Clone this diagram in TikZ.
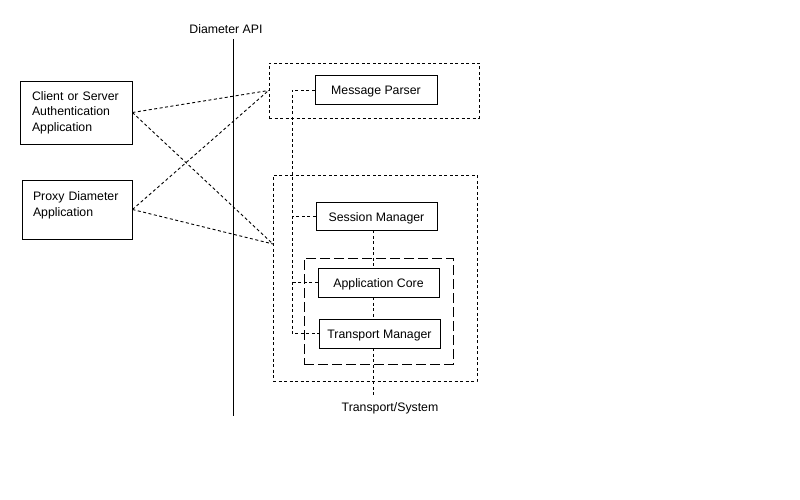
\documentclass[tikz,border=0pt]{standalone}
\usepackage{fontspec}
\setmainfont{Liberation Sans}
\usepackage{tikz}
\usetikzlibrary{positioning}

\tikzset{
  modbox/.style={rectangle, draw, line width=0.9pt, minimum width=121, minimum height=29, inner sep=0pt, text height=10pt, text depth=0pt},
  appbox/.style={rectangle, draw, line width=0.9pt, inner sep=0pt, align=left, text width=88},
  dotline/.style={line width=0.9pt, dash pattern=on 3pt off 2.5pt},
  dashline/.style={line width=0.9pt, dash pattern=on 10pt off 4pt},
}

\begin{document}
\begin{tikzpicture}[x=1pt, y=-1pt, font=\fontsize{12.3}{15.5}\selectfont]
    \useasboundingbox (0,0) rectangle (800,500);

    % API boundary
    \coordinate (apitop) at (233,39);
    \coordinate (apibot) at (233,416);
    \draw[line width=0.9pt] (apitop) -- (apibot);
    \node (apilabel) at (226,29) {Diameter API};

    % applications
    \node[appbox, minimum width=112, minimum height=63] (client) at (76,112.5)
        {Client or Server\\Authentication\\Application};
    \node[appbox, minimum width=110, minimum height=59, text depth=26pt] (proxy) at (77,209.5)
        {Proxy Diameter\\Application};

    % groups
    \node[draw, dotline, minimum width=210, minimum height=55, inner sep=0pt] (parsergroup) at (374,90.5) {};
    \node[draw, dotline, minimum width=204, minimum height=206, inner sep=0pt] (stackgroup) at (375,278) {};
    \node[draw, dashline, minimum width=149, minimum height=106, inner sep=0pt] (coregroup) at (378.5,311) {};

    % modules
    \node[modbox, minimum width=122] (parser) at (376,90) {Message Parser};
    \node[modbox, minimum height=28] (session) at (376.5,216) {Session Manager};
    \node[modbox] (core) at (378.5,282.5) {Application Core};
    \node[modbox] (transport) at (379.5,333.5) {Transport Manager};
    \node (system) at (390,408) {Transport/System};

    % crossing links
    \coordinate (stackport) at (273,244);
    \draw[dotline] (client.east) -- (parsergroup.west);
    \draw[dotline] (client.east) -- (stackport);
    \draw[dotline] (proxy.east) -- (parsergroup.west);
    \draw[dotline] (proxy.east) -- (stackport);

    % internal bus
    \coordinate (bus) at (292,90);
    \draw[dotline] (parser.west) -- (bus) |- (transport.west);
    \draw[dotline] (session.west) -- (session.west -| bus);
    \draw[dotline] (core.west) -- (core.west -| bus);

    % down to transport/system
    \coordinate (sysline) at (373,397);
    \draw[dotline] (session.south -| sysline) -- (core.north -| sysline);
    \draw[dotline] (core.south -| sysline) -- (transport.north -| sysline);
    \draw[dotline] (transport.south -| sysline) -- (sysline);
\end{tikzpicture}
\end{document}
